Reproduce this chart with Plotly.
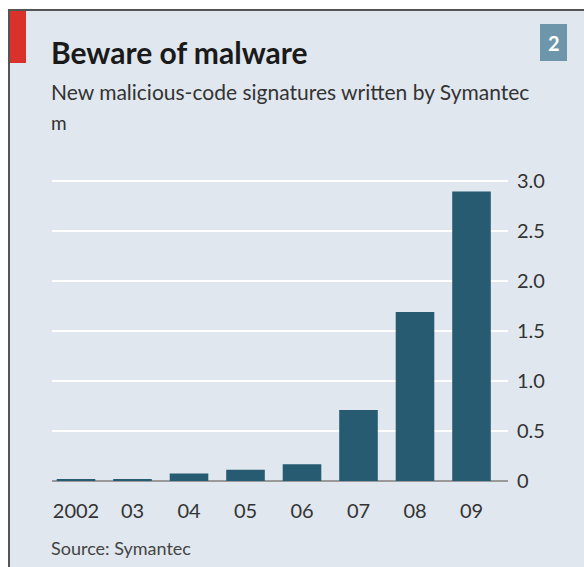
import plotly.graph_objects as go

# Data (millions of new malicious-code signatures)
years = ["2002", "03", "04", "05", "06", "07", "08", "09"]
signatures = [0.021, 0.019, 0.075, 0.113, 0.167, 0.709, 1.691, 2.896]
ytick_vals = [0, 0.5, 1.0, 1.5, 2.0, 2.5, 3.0]
ytick_text = ["0", "0.5", "1.0", "1.5", "2.0", "2.5", "3.0"]

W, H = 584, 567
L, R = 52, 508      # plot area px (x)
T, B = 178, 481     # plot area px (y)

def px(xp):
    return (xp - L) / (R - L)

def py(yp):
    return (B - yp) / (B - T)

FONT = "Lato"
BAR = "#265b72"

fig = go.Figure(go.Bar(
    x=years, y=signatures, marker=dict(color=BAR, line=dict(width=0)),
    width=0.683, hoverinfo="x+y"))

fig.update_layout(
    width=W, height=H,
    margin=dict(l=L, r=W - R, t=T, b=H - B, pad=0),
    paper_bgcolor="white", plot_bgcolor="rgba(0,0,0,0)",
    font=dict(family=FONT, color="#333333"),
    showlegend=False,
    bargap=0.3,
)
fig.update_xaxes(
    type="category", range=[-0.425, 7.646], showgrid=False, zeroline=False,
    showline=False, ticks="", tickfont=dict(size=20, color="#333333"),
    ticklabelstandoff=16, fixedrange=True)
fig.update_yaxes(
    range=[0, 3.03], side="right", tickvals=ytick_vals, ticktext=ytick_text,
    showgrid=True, gridcolor="white", gridwidth=2,
    zeroline=True, zerolinecolor="#9a9a9a", zerolinewidth=2,
    showline=False, ticks="", tickfont=dict(size=20, color="#333333"),
    ticklabelstandoff=8, fixedrange=True)

shapes = [
    # panel background
    dict(type="rect", xref="paper", yref="paper", x0=px(10), x1=px(584),
         y0=py(567), y1=py(10), fillcolor="#e0e7ee", line=dict(width=0), layer="below"),
    # top border
    dict(type="line", xref="paper", yref="paper", x0=px(8), x1=px(584),
         y0=py(10), y1=py(10), line=dict(color="#555555", width=2)),
    # left border
    dict(type="line", xref="paper", yref="paper", x0=px(9), x1=px(9),
         y0=py(10), y1=py(567), line=dict(color="#555555", width=2)),
    # red tag
    dict(type="rect", xref="paper", yref="paper", x0=px(10), x1=px(26),
         y0=py(63), y1=py(11), fillcolor="#d8322a", line=dict(width=0)),
    # chart number box
    dict(type="rect", xref="paper", yref="paper", x0=px(540), x1=px(567),
         y0=py(61), y1=py(24), fillcolor="#6d96aa", line=dict(width=0)),
]
fig.update_layout(shapes=shapes)

ann = [
    dict(text="<b>Beware of malware</b>", x=px(49), y=py(52), xanchor="left", yanchor="middle",
         font=dict(size=30, color="#1a1a1a", family=FONT)),
    dict(text="New malicious-code signatures written by Symantec", x=px(49), y=py(92),
         xanchor="left", yanchor="middle", font=dict(size=21, color="#333333", family=FONT)),
    dict(text="m", x=px(49), y=py(123), xanchor="left", yanchor="middle",
         font=dict(size=19, color="#333333", family=FONT)),
    dict(text="<b>2</b>", x=px(553.5), y=py(42.5), xanchor="center", yanchor="middle",
         font=dict(size=20, color="white", family=FONT)),
    dict(text="Source: Symantec", x=px(49), y=py(548), xanchor="left", yanchor="middle",
         font=dict(size=18, color="#444444", family=FONT)),
]
for a in ann:
    a.update(xref="paper", yref="paper", showarrow=False)
fig.update_layout(annotations=ann)

fig.write_html("out.html")
